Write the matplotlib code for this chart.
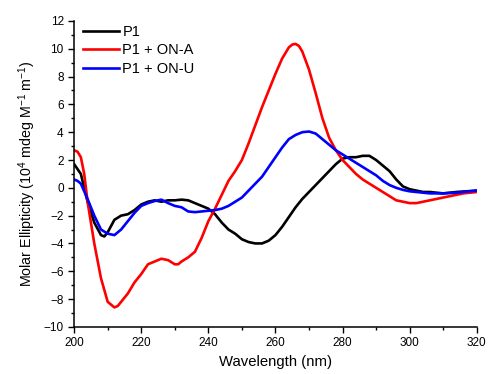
import matplotlib
matplotlib.use("Agg")
import matplotlib.pyplot as plt
from matplotlib.ticker import MultipleLocator

plt.rcParams["font.family"] = ["Liberation Sans", "DejaVu Sans"]
plt.rcParams["mathtext.default"] = "regular"

# CD spectra (wavelength in nm, ellipticity in 10^4 mdeg M^-1 m^-1)
wl_p1 = [200, 202, 204, 206, 208, 209, 210, 212, 214, 216, 218, 220, 222, 224, 226, 228,
         230, 232, 234, 236, 238, 240, 242, 244, 246, 248, 250, 252, 254, 256, 258, 260,
         262, 264, 266, 268, 270, 272, 274, 276, 278, 280, 282, 284, 286, 288, 290, 292,
         294, 296, 298, 300, 302, 304, 306, 310, 314, 320]
p1 = [1.7, 1.0, -1.0, -2.5, -3.4, -3.5, -3.2, -2.3, -2.0, -1.9, -1.6, -1.2, -1.0, -0.9, -1.0, -0.9,
      -0.9, -0.85, -0.9, -1.1, -1.3, -1.5, -1.9, -2.5, -3.0, -3.3, -3.7, -3.9, -4.0, -4.0, -3.8, -3.4,
      -2.8, -2.1, -1.4, -0.8, -0.3, 0.2, 0.7, 1.2, 1.7, 2.1, 2.2, 2.2, 2.3, 2.3, 2.0, 1.6,
      1.2, 0.6, 0.1, -0.1, -0.2, -0.3, -0.3, -0.4, -0.3, -0.2]

wl_a = [200, 201, 202, 203, 204, 206, 208, 210, 212, 213, 214, 216, 218, 220, 222, 224,
        226, 228, 230, 231, 232, 234, 236, 238, 240, 242, 244, 246, 248, 250, 252, 254,
        256, 258, 260, 262, 264, 265, 266, 267, 268, 270, 272, 274, 276, 278, 280, 282,
        284, 286, 288, 290, 292, 294, 296, 298, 300, 302, 304, 306, 308, 310, 312, 314,
        316, 320]
p1_ona = [2.7, 2.6, 2.2, 1.0, -1.0, -4.0, -6.5, -8.2, -8.6, -8.5, -8.2, -7.6, -6.8, -6.2, -5.5, -5.3,
          -5.1, -5.2, -5.5, -5.5, -5.3, -5.0, -4.6, -3.6, -2.4, -1.5, -0.5, 0.5, 1.2, 2.0, 3.2, 4.5,
          5.8, 7.0, 8.2, 9.3, 10.1, 10.3, 10.35, 10.2, 9.8, 8.5, 6.8, 5.0, 3.6, 2.7, 2.0, 1.5,
          1.0, 0.6, 0.3, 0.0, -0.3, -0.6, -0.9, -1.0, -1.1, -1.1, -1.0, -0.9, -0.8, -0.7, -0.6, -0.5,
          -0.4, -0.3]

wl_u = [200, 201, 202, 204, 206, 208, 210, 212, 214, 216, 218, 220, 222, 224, 226, 228,
        230, 232, 234, 236, 238, 240, 242, 244, 246, 248, 250, 252, 254, 256, 258, 260,
        262, 264, 266, 268, 270, 272, 274, 276, 278, 280, 282, 284, 286, 288, 290, 292,
        294, 296, 298, 300, 302, 304, 306, 310, 314, 320]
p1_onu = [0.6, 0.5, 0.3, -0.8, -2.0, -3.0, -3.3, -3.4, -3.0, -2.4, -1.8, -1.3, -1.1, -0.95, -0.85, -1.1,
          -1.3, -1.4, -1.7, -1.75, -1.7, -1.65, -1.6, -1.5, -1.3, -1.0, -0.7, -0.2, 0.3, 0.8, 1.5, 2.2,
          2.9, 3.5, 3.8, 4.0, 4.05, 3.9, 3.5, 3.1, 2.7, 2.4, 2.1, 1.8, 1.5, 1.2, 0.9, 0.5,
          0.2, 0.0, -0.15, -0.25, -0.3, -0.35, -0.4, -0.4, -0.35, -0.2]

fig = plt.figure(figsize=(4.91, 3.74), dpi=100)
ax = fig.add_axes([0.151, 0.126, 0.820, 0.818])

ax.plot(wl_p1, p1, color="black", lw=1.9, label="P1")
ax.plot(wl_a, p1_ona, color="#ff0000", lw=1.9, label="P1 + ON-A")
ax.plot(wl_u, p1_onu, color="#0000ff", lw=1.9, label="P1 + ON-U")

ax.set_xlim(200, 320)
ax.set_ylim(-10, 12)
ax.xaxis.set_major_locator(MultipleLocator(20))
ax.xaxis.set_minor_locator(MultipleLocator(10))
ax.yaxis.set_major_locator(MultipleLocator(2))
ax.yaxis.set_minor_locator(MultipleLocator(1))
ax.tick_params(which="both", direction="out", labelsize=8.5, width=1)
ax.tick_params(which="major", length=4)
ax.tick_params(which="minor", length=2.5)
for s in ("top", "right"):
    ax.spines[s].set_visible(False)
for s in ("left", "bottom"):
    ax.spines[s].set_linewidth(1.1)

ax.set_xlabel("Wavelength (nm)", fontsize=10.7)
ax.set_ylabel("Molar Ellipticity (10$^4$ mdeg M$^{-1}$ m$^{-1}$)", fontsize=10.3)

ax.legend(loc="upper left", frameon=False, fontsize=10.5, handlelength=2.5,
          handletextpad=0.2, labelspacing=0.3, borderaxespad=0.2,
          bbox_to_anchor=(0.0, 1.015))

fig.savefig("out.png", dpi=100)
